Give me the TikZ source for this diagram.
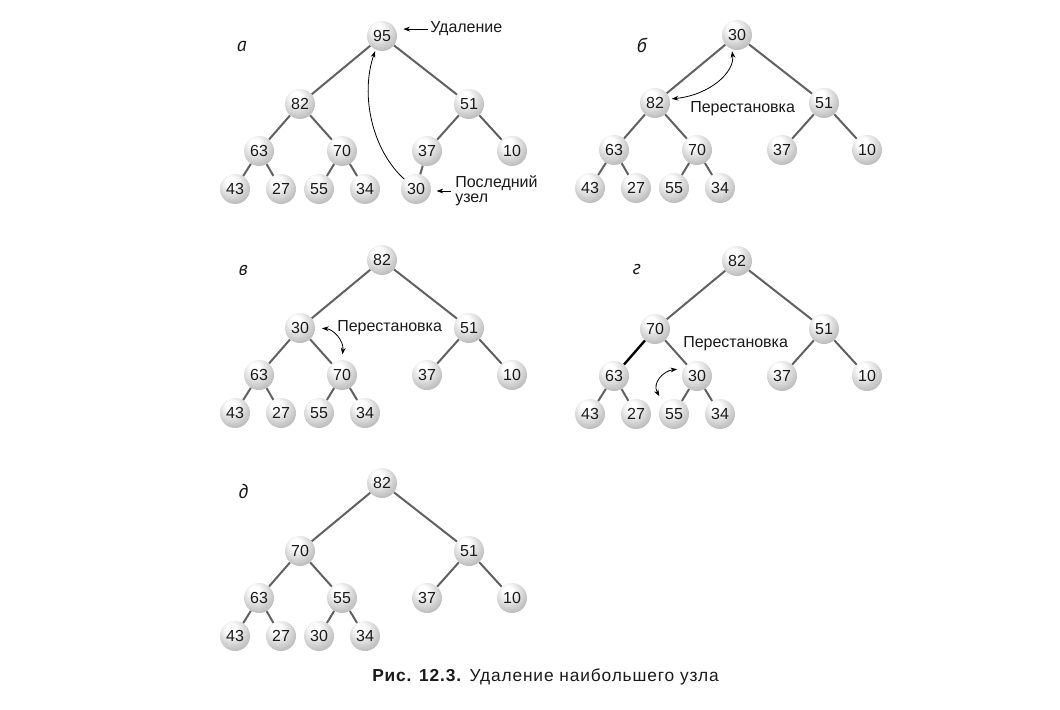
\documentclass[tikz,border=0pt]{standalone}
\usepackage{fontspec}
\setmainfont{Liberation Sans}
\newfontfamily\panelfont{PT Sans}
\newfontfamily\capfont[LetterSpace=5]{Liberation Sans}
\usetikzlibrary{arrows.meta}
\pgfdeclareradialshading{sphere}{\pgfpoint{-8bp}{14bp}}{color(0bp)=(white); color(8bp)=(white); color(30bp)=(black!24); color(50bp)=(black!43); color(70bp)=(black!50)}
\definecolor{edgegray}{HTML}{616161}
\definecolor{ink}{HTML}{1A1A1A}
\tikzset{
  hn/.style={circle, minimum size=22.5pt, inner sep=0pt, shading=sphere, text=ink, font=\fontsize{12}{12}\selectfont},
  edge/.style={draw=edgegray, line width=1.5pt},
  darkedge/.style={draw=black, line width=1.8pt},
  lbl/.style={inner sep=0pt, text=ink, font=\fontsize{12}{11}\selectfont},
  plbl/.style={inner sep=0pt, text=black!90, font=\panelfont\itshape\fontsize{15}{16}\selectfont},
  arr/.style={draw=black, line width=0.6pt, -{Stealth[length=5pt,width=3.6pt]}},
  darr/.style={draw=black, line width=0.6pt, {Stealth[length=5pt,width=3.6pt]}-{Stealth[length=5pt,width=3.6pt]}}
}
\newcommand\hx[1]{\ifcase#1\or0\or-82\or87\or-123\or-40\or45\or130\or-147\or-101\or-63\or-17\or34\fi}
\newcommand\hy[1]{\ifcase#1\or0\or68\or68\or115\or115\or115\or115\or153\or153\or153\or153\or153\fi}
\newcommand\heap[5]{%
  \begin{scope}[shift={#2}]
    \foreach \i/\v in {#3}{\edef\px{\hx{\i}}\edef\py{\hy{\i}}\node[hn] (#1\i) at (\px,\py) {\v};}
  \end{scope}
  \foreach \i in {2,...,#4}{\pgfmathtruncatemacro\pp{\i/2}%
    \ifnum\i=#5\relax\draw[edge,darkedge] (#1\pp) -- (#1\i);\else\draw[edge] (#1\pp) -- (#1\i);\fi}%
}
\begin{document}
\begin{tikzpicture}[x=0.75pt,y=-0.75pt]
\fill[white] (0,0) rectangle (1060,710);
\useasboundingbox (0,0) rectangle (1060,710);

% panel a
\heap{a}{(382,36)}{1/95,2/82,3/51,4/63,5/70,6/37,7/10,8/43,9/27,10/55,11/34,12/30}{12}{0}
\node[plbl] (alab) at (241.7,46.7) {а};
\node[lbl, anchor=base west] (adel) at (430,33) {Удаление};
\draw[arr, shorten <=1.5pt, shorten >=4.5pt] (adel.west) -- (adel.west -| a1.east);
\node[lbl, anchor=west, align=left] (apos) at (455,191) {Последний\\узел};
\draw[arr, shorten <=3pt, shorten >=4pt] (apos.west) -- (apos.west -| a12.east);
\draw[arr, shorten >=1pt] (a12.140) .. controls (372,150) and (360,95) .. (a1.245);

% panel b
\heap{b}{(737,35)}{1/30,2/82,3/51,4/63,5/70,6/37,7/10,8/43,9/27,10/55,11/34}{11}{0}
\node[plbl] (blab) at (641.7,45) {б};
\node[lbl, anchor=base west] (bperm) at (690,113) {Перестановка};
\draw[darr, shorten <=1.5pt, shorten >=1.5pt] (b2.15) .. controls (710,95) and (735,72) .. (b1.250);

% panel v
\heap{c}{(382,260)}{1/82,2/30,3/51,4/63,5/70,6/37,7/10,8/43,9/27,10/55,11/34}{11}{0}
\node[plbl] (clab) at (243.3,270) {в};
\node[lbl, anchor=base west] (cperm) at (337,331) {Перестановка};
\draw[darr, shorten <=5pt, shorten >=4pt] (c2.east) .. controls (333,329) and (344,340) .. (c5.north);

% panel g
\heap{d}{(737,261)}{1/82,2/70,3/51,4/63,5/30,6/37,7/10,8/43,9/27,10/55,11/34}{11}{4}
\node[plbl] (dlab) at (636.7,270) {г};
\node[lbl, anchor=base west] (dperm) at (683,347) {Перестановка};
\draw[darr, shorten <=5pt, shorten >=6pt] (d5.150) .. controls (663,371) and (652,383) .. (d10.135);

% panel d
\heap{e}{(382,483)}{1/82,2/70,3/51,4/63,5/55,6/37,7/10,8/43,9/27,10/30,11/34}{11}{0}
\node[plbl] (elab) at (243.3,491.7) {д};

% caption
\node[anchor=base west, inner sep=0pt, text=ink, font=\capfont\fontsize{13}{14}\selectfont] (cap) at (372,681) {\textbf{Рис. 12.3.} Удаление наибольшего узла};
\end{tikzpicture}
\end{document}
